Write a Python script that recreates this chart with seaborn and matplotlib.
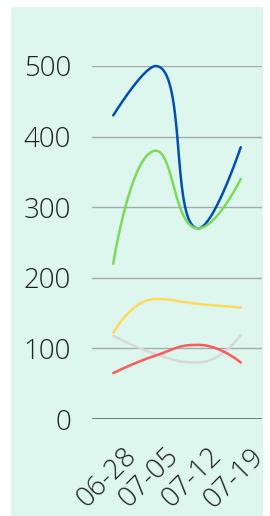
import numpy as np
import pandas as pd
import matplotlib
matplotlib.use("Agg")
import matplotlib.pyplot as plt
from matplotlib.patches import Rectangle
from matplotlib.transforms import ScaledTranslation
import seaborn as sns

# Chart data
dates = ["06-28", "07-05", "07-12", "07-19"]
blue_vals = [430, 500, 270, 385]
green_vals = [220, 380, 270, 340]
yellow_vals = [122, 170, 163, 158]
grey_vals = [118, 92, 80, 119]
red_vals = [65, 90, 105, 80]

series = [
    ("blue", blue_vals, "#0050b3"),
    ("green", green_vals, "#7dd95a"),
    ("yellow", yellow_vals, "#ffd95a"),
    ("grey", grey_vals, "#d9d9d9"),
    ("red", red_vals, "#ff5a5a"),
]

PX_X = 42.7   # pixels per category step
PX_Y = 0.706  # pixels per value unit


def smooth_path(xs, ys, smooth=0.5, n=40):
    # bezier smoothing like echarts' smooth line, done in pixel space
    px = [x * PX_X for x in xs]
    py = [y * PX_Y for y in ys]
    m = len(px)
    cps = []
    for i in range(m):
        if i == 0 or i == m - 1:
            cps.append(((px[i], py[i]), (px[i], py[i])))
            continue
        x, y = px[i], py[i]
        x0, y0 = px[i - 1], py[i - 1]
        x1, y1 = px[i + 1], py[i + 1]
        vx, vy = x1 - x0, y1 - y0
        l0 = np.hypot(x - x0, y - y0)
        l1 = np.hypot(x1 - x, y1 - y)
        r = l1 / (l0 + l1)
        nx = x + vx * smooth * r
        ny = y + vy * smooth * r
        nx = min(nx, max(x1, x)); nx = max(nx, min(x1, x))
        ny = min(ny, max(y1, y)); ny = max(ny, min(y1, y))
        vx, vy = nx - x, ny - y
        cx = x - vx * l0 / l1
        cy = y - vy * l0 / l1
        cx = min(cx, max(x0, x)); cx = max(cx, min(x0, x))
        cy = min(cy, max(y0, y)); cy = max(cy, min(y0, y))
        vx, vy = x - cx, y - cy
        nx = x + vx * l1 / l0
        ny = y + vy * l1 / l0
        cps.append(((cx, cy), (nx, ny)))
    t = np.linspace(0, 1, n)[:, None]
    out = []
    for i in range(m - 1):
        p0 = np.array([px[i], py[i]])
        c0 = np.array(cps[i][1])
        c1 = np.array(cps[i + 1][0])
        p1 = np.array([px[i + 1], py[i + 1]])
        seg = ((1 - t) ** 3) * p0 + 3 * ((1 - t) ** 2) * t * c0 + 3 * (1 - t) * t ** 2 * c1 + t ** 3 * p1
        out.append(seg if i == 0 else seg[1:])
    pts = np.vstack(out)
    return pts[:, 0] / PX_X, pts[:, 1] / PX_Y


sns.set_style("white")
plt.rcParams['font.family'] = ['Open Sans', 'DejaVu Sans']
plt.rcParams['font.weight'] = 'light'

W, H = 270, 516
fig = plt.figure(figsize=(W / 100, H / 100), dpi=100, facecolor="white")
fig.patches.append(Rectangle((11 / W, 0), 252 / W, (H - 7) / H,
                             transform=fig.transFigure, facecolor="#ddf7ef",
                             edgecolor="none", zorder=-10))

ax = fig.add_axes([92 / W, (H - 419) / H, 170 / W, 353 / H])
ax.set_facecolor("none")
ax.set_zorder(1)

for name, vals, color in series:
    cx, cy = smooth_path(range(len(dates)), vals)
    df = pd.DataFrame({"x": cx, "y": cy})
    sns.lineplot(data=df, x="x", y="y", sort=False, estimator=None,
                 color=color, linewidth=1.8, ax=ax, clip_on=False)

ax.set_xlim(-0.5, len(dates) - 0.5)
ax.set_ylim(0, 500)
ax.set_yticks([0, 100, 200, 300, 400, 500])
ax.set_xticks(range(len(dates)))
ax.set_xticklabels(dates, rotation=45, ha="right", va="center",
                   rotation_mode="anchor")
ax.set_xlabel("")
ax.set_ylabel("")
ax.tick_params(axis="both", length=0, labelsize=20, labelcolor="#222222")
ax.tick_params(axis="y", pad=15)
ax.tick_params(axis="x", pad=14)

# nudge the rotated date labels right and down
shift = ScaledTranslation(0.19, -0.14, fig.dpi_scale_trans)
for lbl in ax.get_xticklabels():
    lbl.set_transform(lbl.get_transform() + shift)

for v in [100, 200, 300, 400, 500]:
    ax.axhline(v, color="#a3aca8", linewidth=1, zorder=0.5)
ax.axhline(0, color="#5a6a62", linewidth=1.2, zorder=0.5)

for s in ax.spines.values():
    s.set_visible(False)

fig.savefig("out.png", dpi=100, facecolor="white")
